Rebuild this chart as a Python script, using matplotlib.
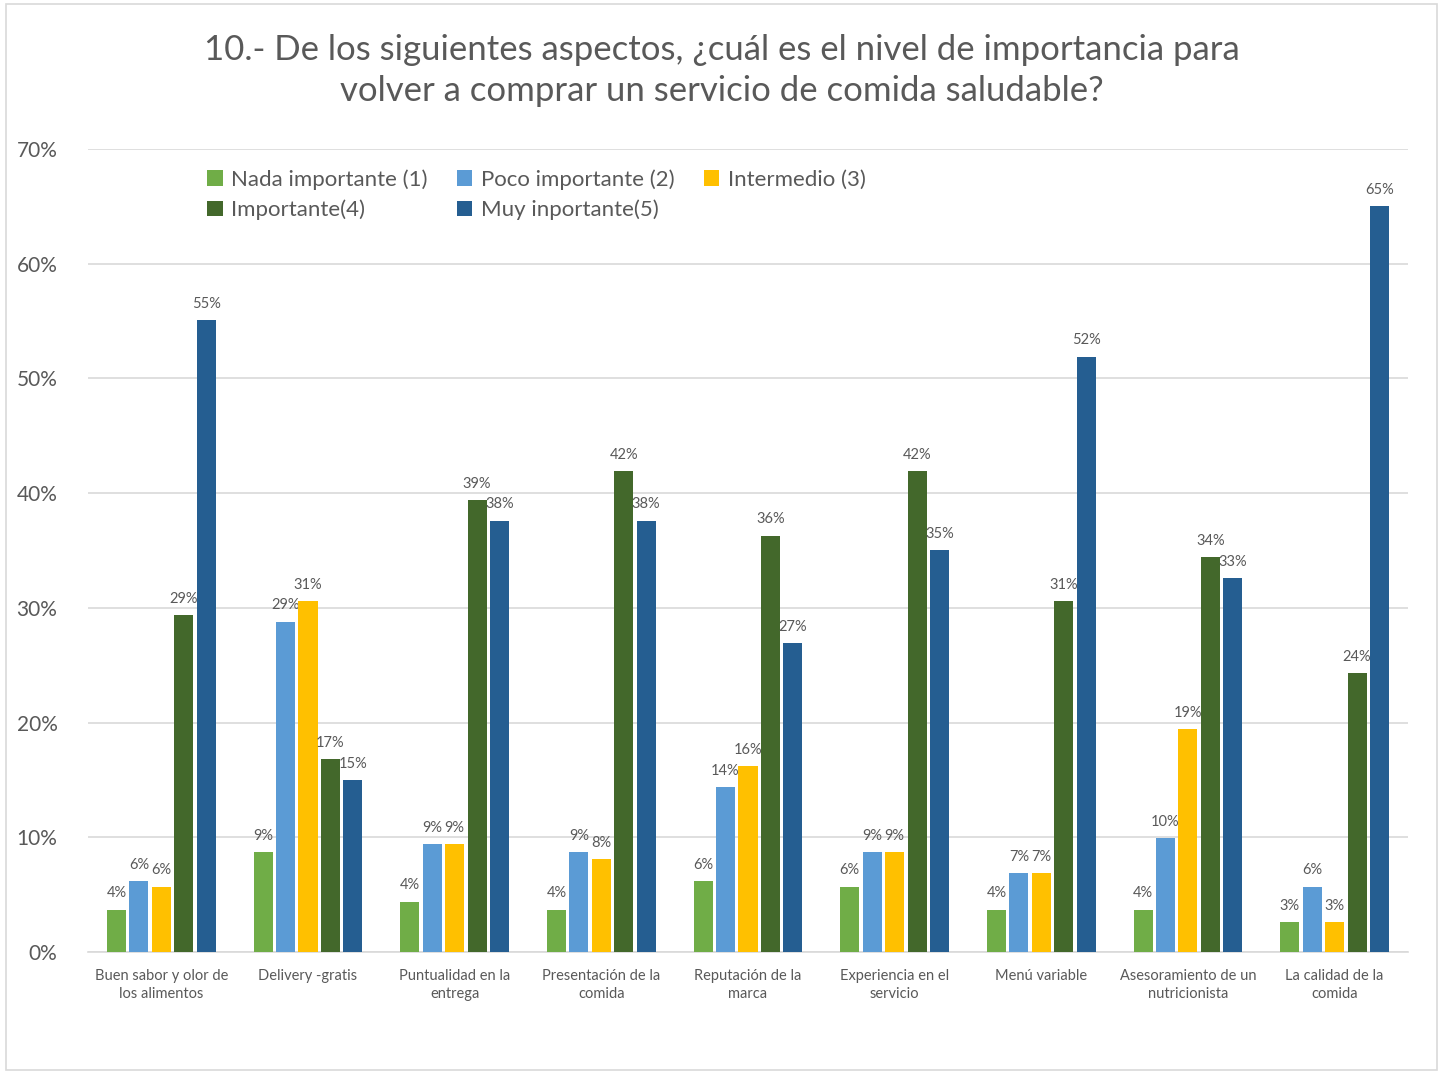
import numpy as np
import matplotlib.pyplot as plt
from matplotlib.patches import Rectangle

plt.rcParams['font.family'] = ['Lato', 'DejaVu Sans']

# datos
categorias = ["Buen sabor y olor de\nlos alimentos", "Delivery -gratis", "Puntualidad en la\nentrega",
              "Presentación de la\ncomida", "Reputación de la\nmarca", "Experiencia en el\nservicio",
              "Menú variable", "Asesoramiento de un\nnutricionista", "La calidad de la\ncomida"]
series = ["Nada importante (1)", "Poco importante (2)", "Intermedio (3)", "Importante(4)", "Muy inportante(5)"]
nada = [3.7, 8.7, 4.4, 3.7, 6.2, 5.7, 3.7, 3.7, 2.6]
poco = [6.2, 28.8, 9.4, 8.7, 14.4, 8.7, 6.9, 9.9, 5.7]
intermedio = [5.7, 30.6, 9.4, 8.1, 16.2, 8.7, 6.9, 19.4, 2.6]
importante = [29.4, 16.8, 39.4, 41.9, 36.3, 41.9, 30.6, 34.4, 24.3]
muy = [55.1, 15.0, 37.6, 37.6, 26.9, 35.0, 51.9, 32.6, 65.0]
valores = [nada, poco, intermedio, importante, muy]
colores = ["#70AD47", "#5B9BD5", "#FFC000", "#43682B", "#255E91"]

fig = plt.figure(figsize=(14.43, 10.74), dpi=100)
fig.patches.append(Rectangle((0.004, 0.004), 0.992, 0.992, transform=fig.transFigure,
                             fill=False, edgecolor="#D9D9D9", linewidth=1.2))
ax = fig.add_axes([0.061, 0.1136, 0.9147, 0.7477])

x = np.arange(len(categorias))
w = 0.13
paso = 0.153
barras = []
for i, (vals, col) in enumerate(zip(valores, colores)):
    pos = x + (i - 2) * paso
    b = ax.bar(pos, vals, width=w, color=col, label=series[i], zorder=3)
    barras.append(b)
    for p, v in zip(pos, vals):
        ax.text(p, v + 0.8, f"{v:.0f}%", ha="center", va="bottom", fontsize=10.5, color="#595959")

ax.set_ylim(0, 70)
ax.set_xlim(-0.5, len(categorias) - 0.5)
ax.set_yticks(np.arange(0, 71, 10))
ax.set_yticklabels([f"{t}%" for t in range(0, 71, 10)], fontsize=15, color="#595959")
ax.set_xticks(x)
ax.set_xticklabels(categorias, fontsize=10.5, color="#595959", linespacing=1.35)
ax.tick_params(axis="both", length=0)
ax.tick_params(axis="y", pad=22)
ax.tick_params(axis="x", pad=12)
ax.grid(axis="y", color="#D9D9D9", linewidth=1.2, zorder=0)
for s in ["top", "right", "left"]:
    ax.spines[s].set_visible(False)
ax.spines["bottom"].set_color("#D9D9D9")
ax.spines["bottom"].set_linewidth(1.2)

fig.suptitle("10.- De los siguientes aspectos, ¿cuál es el nivel de importancia para\n"
             "volver a comprar un servicio de comida saludable?",
             y=0.968, fontsize=25, color="#595959", linespacing=1.35)

orden = [0, 3, 1, 4, 2]
ax.legend([barras[i] for i in orden], [series[i] for i in orden], ncol=3,
          loc="upper left", bbox_to_anchor=(0.075, 1.0), frameon=False,
          fontsize=16, labelcolor="#595959", handlelength=0.7, handleheight=0.7,
          handletextpad=0.4, columnspacing=1.3, labelspacing=0.45)

fig.savefig("out.png", dpi=100)
